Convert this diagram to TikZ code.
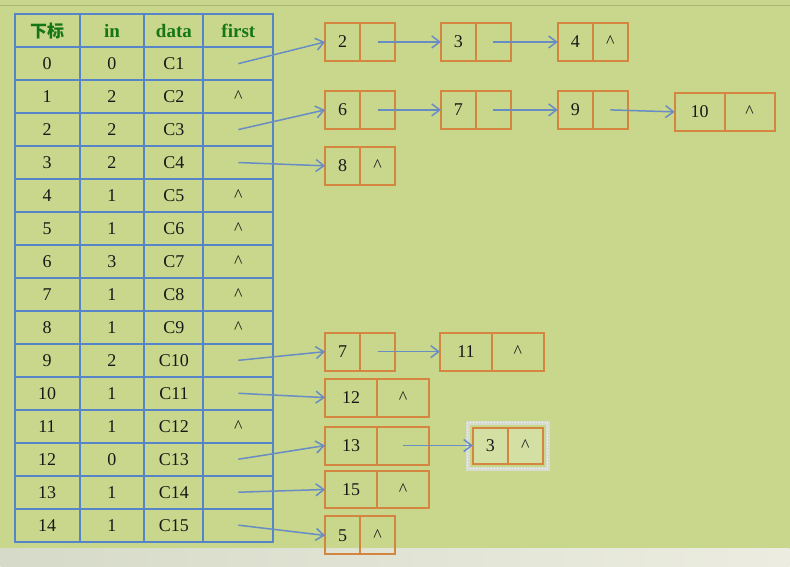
\documentclass[tikz,border=0pt]{standalone}
\usepackage{fontspec}
\setmainfont{Liberation Serif}
\newfontfamily\cjk{Noto Sans CJK SC}
\usetikzlibrary{matrix,positioning,arrows.meta}
\definecolor{bgc}{RGB}{200,215,140}
\definecolor{gridc}{RGB}{86,132,200}
\definecolor{arrc}{RGB}{104,140,196}
\definecolor{boxc}{RGB}{212,134,64}
\definecolor{headc}{RGB}{22,118,22}
\definecolor{txtc}{RGB}{24,24,24}
\definecolor{selc}{RGB}{214,220,208}
\definecolor{bandl}{RGB}{214,218,200}
\definecolor{bandr}{RGB}{236,237,224}
\newcommand\nil{\textasciicircum}

\begin{document}
\begin{tikzpicture}[x=1pt, y=-1pt, >={Straight Barb[length=8pt,width=12pt]}]
	\tikzset{tcell/.style={draw=gridc, line width=2pt, minimum height=33pt, inner sep=0pt, outer sep=0pt, anchor=center, text=txtc, font=\fontsize{18}{20}\selectfont}}
	\tikzset{cell/.style={draw=boxc, line width=2pt, minimum width=35pt, minimum height=38pt, inner sep=0pt, outer sep=0pt, text=txtc, font=\fontsize{18}{20}\selectfont}}
	\tikzset{wcell/.style={cell, minimum width=52pt}}
	\tikzset{arrow/.style={draw=arrc, line width=1.5pt, ->}}

	% background
	\fill[bgc] (0,0) rectangle (790,567);
	\draw[bgc!85!black, line width=0.8pt] (0,5) -- (790,5);
	\shade[left color=bandl, right color=bandr] (0,549) rectangle (790,567);
	\useasboundingbox (0,0) rectangle (790,567);

	% table
	\matrix (tab) [matrix of nodes, nodes in empty cells, inner sep=0pt, row sep=-2pt, column sep=-2pt,
		anchor=north west, nodes={tcell},
		column 1/.style={nodes={minimum width=65pt}},
		column 2/.style={nodes={minimum width=65pt}},
		column 3/.style={nodes={minimum width=59pt}},
		column 4/.style={nodes={minimum width=70pt}},
		row 1/.style={nodes={text=headc, font=\fontsize{19}{20}\selectfont\bfseries}}] at (13,13) {
		|[font=\cjk\bfseries\fontsize{17}{20}\selectfont]| 下标 & in & data & first \\
		0 & 0 & C1 & \\
		1 & 2 & C2 & \nil \\
		2 & 2 & C3 & \\
		3 & 2 & C4 & \\
		4 & 1 & C5 & \nil \\
		5 & 1 & C6 & \nil \\
		6 & 3 & C7 & \nil \\
		7 & 1 & C8 & \nil \\
		8 & 1 & C9 & \nil \\
		9 & 2 & C10 & \\
		10 & 1 & C11 & \\
		11 & 1 & C12 & \nil \\
		12 & 0 & C13 & \\
		13 & 1 & C14 & \\
		14 & 1 & C15 & \\
	};

	% adjacency lists
	\node[cell] (a1) at (342.5,42) {2};
	\node[cell, right=0pt of a1] (a1p) {};
	\node[cell] (a2) at (458.5,42) {3};
	\node[cell, right=0pt of a2] (a2p) {};
	\node[cell] (a3) at (575.5,42) {4};
	\node[cell, right=0pt of a3] (a3p) {\nil};

	\node[cell] (b1) at (342.5,110) {6};
	\node[cell, right=0pt of b1] (b1p) {};
	\node[cell] (b2) at (458.5,110) {7};
	\node[cell, right=0pt of b2] (b2p) {};
	\node[cell] (b3) at (575.5,110) {9};
	\node[cell, right=0pt of b3] (b3p) {};
	\node[wcell, minimum width=50pt] (b4) at (700,112) {10};
	\node[wcell, minimum width=50pt, right=0pt of b4] (b4p) {\nil};

	\node[cell] (c1) at (342.5,166) {8};
	\node[cell, right=0pt of c1] (c1p) {\nil};

	\node[cell] (d1) at (342.5,352) {7};
	\node[cell, right=0pt of d1] (d1p) {};
	\node[wcell] (d2) at (466,352) {11};
	\node[wcell, right=0pt of d2] (d2p) {\nil};

	\node[wcell] (e1) at (351,398) {12};
	\node[wcell, right=0pt of e1] (e1p) {\nil};

	\node[wcell] (f1) at (351,446) {13};
	\node[wcell, right=0pt of f1] (f1p) {};
	\node[cell, minimum height=36pt, fill=bgc!80!white] (f2) at (490.5,446) {3};
	\node[cell, minimum height=36pt, fill=bgc!80!white, right=0pt of f2] (f2p) {\nil};
	\draw[selc, line width=4pt] ([shift={(-5,-5)}]f2.north west) rectangle ([shift={(5,5)}]f2p.south east);
	\draw[white!70!selc, line width=1pt, dotted] ([shift={(-5,-5)}]f2.north west) rectangle ([shift={(5,5)}]f2p.south east);

	\node[wcell] (g1) at (351,490) {15};
	\node[wcell, right=0pt of g1] (g1p) {\nil};

	\node[cell] (h1) at (342.5,536) {5};
	\node[cell, right=0pt of h1] (h1p) {\nil};

	% first pointers
	\draw[arrow] (tab-2-4.center) -- (a1.west);
	\draw[arrow] (tab-4-4.center) -- (b1.west);
	\draw[arrow] (tab-5-4.center) -- (c1.west);
	\draw[arrow] (tab-11-4.center) -- (d1.west);
	\draw[arrow] (tab-12-4.center) -- (e1.west);
	\draw[arrow] (tab-14-4.center) -- (f1.west);
	\draw[arrow] (tab-15-4.center) -- (g1.west);
	\draw[arrow] (tab-16-4.center) -- (h1.west);

	% next pointers
	\draw[arrow] (a1p.center) -- (a2.west);
	\draw[arrow] (a2p.center) -- (a3.west);
	\draw[arrow] (b1p.center) -- (b2.west);
	\draw[arrow] (b2p.center) -- (b3.west);
	\draw[arrow] (b3p.center) -- (b4.west);
	\draw[arrow] (d1p.center) -- (d2.west);
	\draw[arrow] (f1p.center) -- (f2.west);
\end{tikzpicture}
\end{document}
